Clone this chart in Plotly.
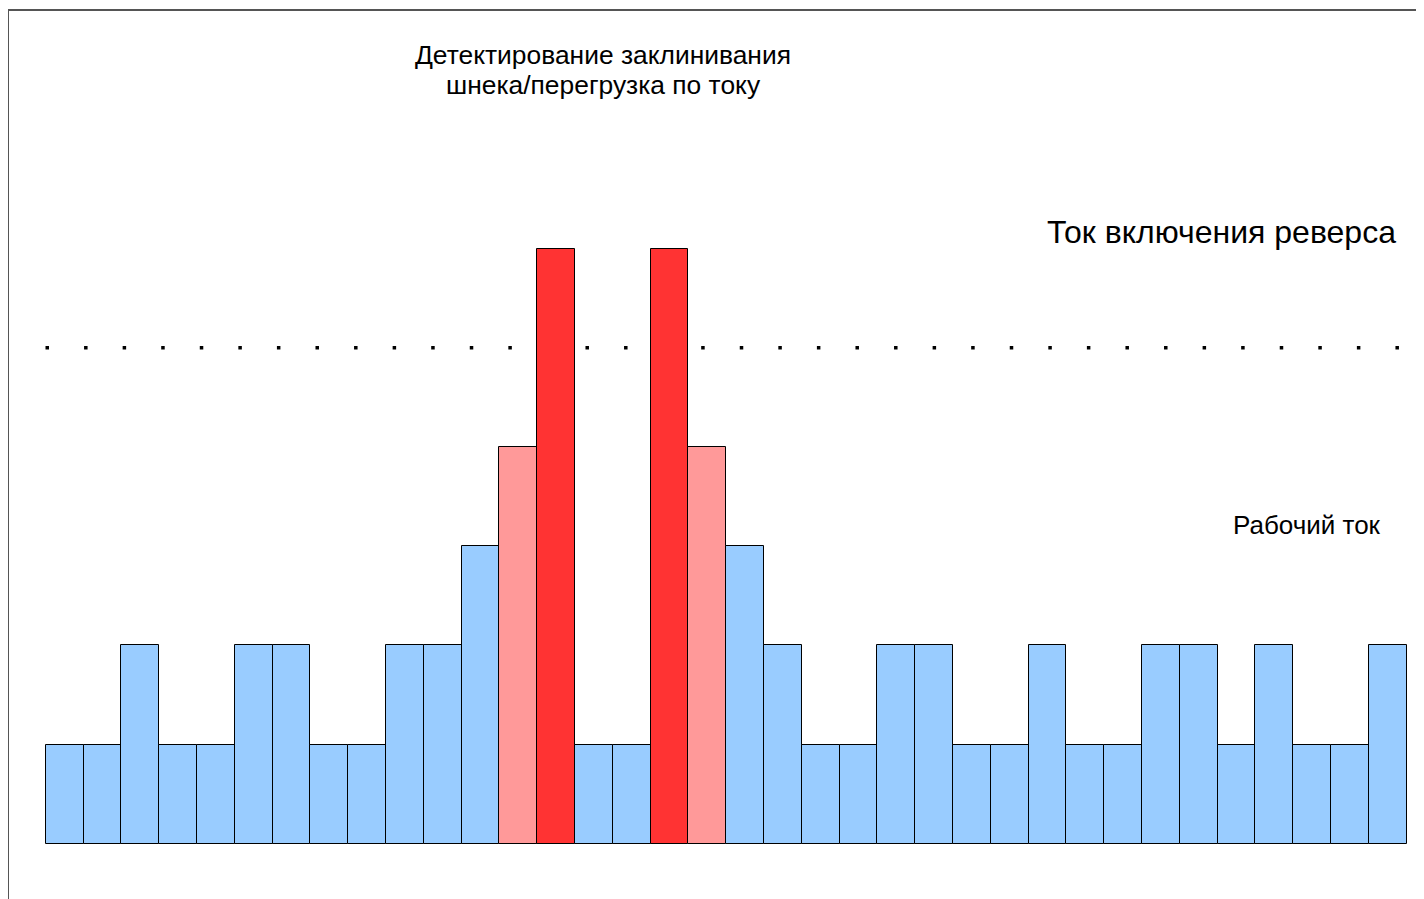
import plotly.graph_objects as go

W, H = 1424, 899
OX, OY = 8, 8  # page offset of the figure (body margin)

levels = [1, 1, 2, 1, 1, 2, 2, 1, 1, 2, 2, 3, 4, 6, 1, 1, 6, 4, 3, 2,
          1, 1, 2, 2, 1, 1, 2, 1, 1, 2, 2, 1, 2, 1, 1, 2]
kinds = ["n"] * 36
kinds[12] = "w"; kinds[17] = "w"
kinds[13] = "r"; kinds[16] = "r"
color_map = {"n": "#99ccff", "w": "#ff9999", "r": "#ff3333"}
colors = [color_map[k] for k in kinds]
reverse_level = 5

title_lines = ["Детектирование заклинивания", "шнека/перегрузка по току"]
reverse_text = "Ток включения реверса"
work_text = "Рабочий ток"

# pixel mapping (page pixels -> figure pixels)
x_left_px, x_right_px = 45.7 - OX, 1406.7 - OX
pxu = (x_right_px - x_left_px) / len(levels)
x0 = -0.5 - x_left_px / pxu
x1 = -0.5 + (W - x_left_px) / pxu
base_px, top6_px = 843.7 - OY, 248.7 - OY
pyu = (base_px - top6_px) / 6
y1 = base_px / pyu
y0 = -(H - base_px) / pyu

def px(p):
    return (p - OX) / W

def py(p):
    return 1 - (p - OY) / H

fig = go.Figure()
fig.add_trace(go.Bar(
    x=list(range(len(levels))), y=levels, width=1,
    marker=dict(color=colors, line=dict(color="#000000", width=1)),
    hoverinfo="skip", showlegend=False,
))

# dotted threshold line (behind bars)
fig.add_shape(type="line", xref="x", yref="y", layer="below",
              x0=x0 + (45.5 - OX) / pxu, x1=x0 + (1400 - OX) / pxu,
              y0=reverse_level, y1=reverse_level,
              line=dict(color="#000000", width=3.5, dash="3.5px,35.07px"))

# frame (cropped at right/bottom)
fig.add_shape(type="rect", xref="paper", yref="paper",
              x0=px(8), x1=1.05, y0=-0.05, y1=py(10),
              line=dict(color="#555555", width=2), fillcolor="rgba(0,0,0,0)")

font = "Liberation Sans, Arial, sans-serif"
for i, line in enumerate(title_lines):
    fig.add_annotation(text=line, xref="paper", yref="paper",
                       x=px(603), y=py(55 + 30 * i), showarrow=False,
                       xanchor="center", yanchor="middle",
                       font=dict(family=font, size=26.4, color="#000000"))
fig.add_annotation(text=reverse_text, xref="paper", yref="paper",
                   x=px(1221.5), y=py(232), showarrow=False,
                   xanchor="center", yanchor="middle",
                   font=dict(family=font, size=32, color="#000000"))
fig.add_annotation(text=work_text, xref="paper", yref="paper",
                   x=px(1307), y=py(525), showarrow=False,
                   xanchor="center", yanchor="middle",
                   font=dict(family=font, size=26, color="#000000"))

fig.update_layout(
    width=W, height=H, margin=dict(l=0, r=0, t=0, b=0),
    paper_bgcolor="white", plot_bgcolor="rgba(0,0,0,0)",
    bargap=0,
    xaxis=dict(range=[x0, x1], visible=False, fixedrange=True),
    yaxis=dict(range=[y0, y1], visible=False, fixedrange=True),
)
fig.write_html("out.html", config={"displayModeBar": False})
